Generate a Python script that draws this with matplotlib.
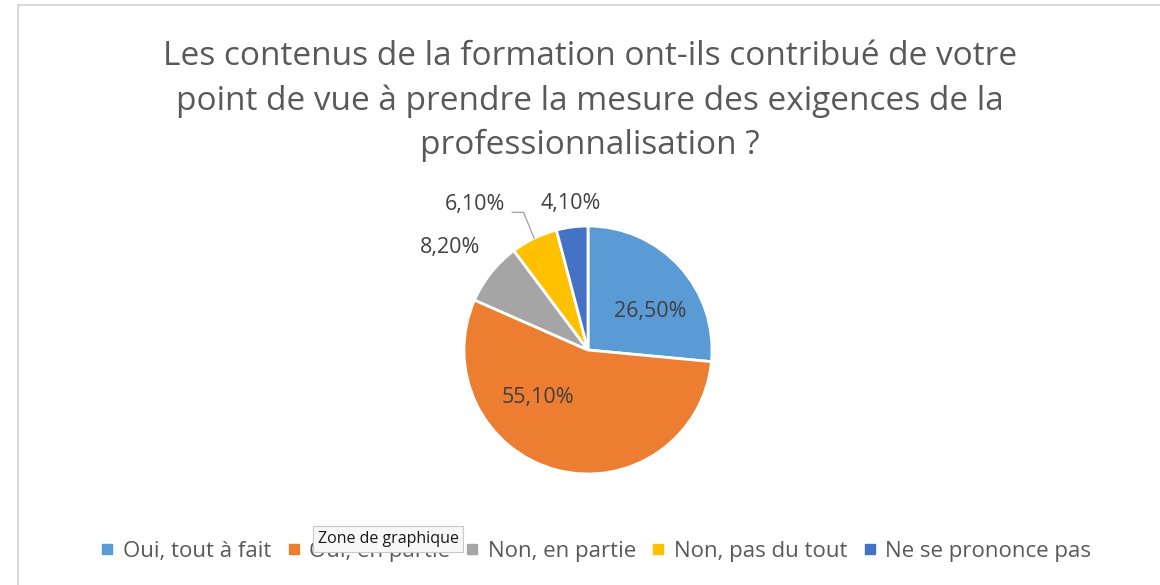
import matplotlib.pyplot as plt
import numpy as np
from matplotlib.lines import Line2D

############# DATA #############

categories = ['Oui, tout à fait', 'Oui, en partie', 'Non, en partie',
              'Non, pas du tout', 'Ne se prononce pas']
values = [26.5, 55.1, 8.2, 6.1, 4.1]
pct_labels = ['26,50%', '55,10%', '8,20%', '6,10%', '4,10%']
colors = ['#5B9BD5', '#ED7D31', '#A5A5A5', '#FFC000', '#4472C4']

title = ("Les contenus de la formation ont-ils contribué de votre\n"
         "point de vue à prendre la mesure des exigences de la\n"
         "professionnalisation ?")

plt.rcParams['font.family'] = ['Open Sans', 'DejaVu Sans']

W, H = 1160, 585
fig = plt.figure(figsize=(W / 100, H / 100), dpi=100)
fig.patch.set_facecolor('white')

# chart area border (left and top only visible in screenshot)
fig.add_artist(Line2D([18 / W, 18 / W], [0, 1 - 5 / H], color='#d9d9d9', lw=1.5))
fig.add_artist(Line2D([18 / W, 1], [1 - 5 / H, 1 - 5 / H], color='#d9d9d9', lw=1.5))

# title
fig.text(590 / W, 1 - 101 / H, title, ha='center', va='center',
         fontsize=24, color='#595959', linespacing=1.45)

# pie axes: center (588, 350) px, radius 124 px
cx, cy, R = 588, 350, 124
ax = fig.add_axes([(cx - R) / W, (H - cy - R) / H, 2 * R / W, 2 * R / H])
wedges, _ = ax.pie(values, colors=colors, startangle=90, counterclock=False,
                   wedgeprops=dict(edgecolor='white', linewidth=2))
ax.set_xlim(-1, 1)
ax.set_ylim(-1, 1)
ax.set_aspect('auto')
ax.axis('off')

# label positions (offsets from pie centre, in radius units)
label_pos = [(0.50, 0.31), (-0.40, -0.38), (-1.11, 0.83), (-0.91, 1.17), (-0.14, 1.18)]
for lab, (lx, ly) in zip(pct_labels, label_pos):
    ax.text(lx, ly, lab, ha='center', va='center', fontsize=15.5,
            color='#404040', clip_on=False)

# leader line for the 6,10% slice
w = wedges[3]
mid = np.deg2rad((w.theta1 + w.theta2) / 2)
ex, ey = np.cos(mid), np.sin(mid)
ax.add_line(Line2D([-0.61, -0.52, ex], [1.11, 1.11, ey], color='#a6a6a6',
                   lw=1, clip_on=False))

# legend
handles = [Line2D([], [], marker='s', linestyle='none', markersize=7,
                  markerfacecolor=c, markeredgecolor=c) for c in colors]
fig.legend(handles, categories, loc='center', bbox_to_anchor=(596 / W, 1 - 551 / H),
           ncol=5, frameon=False, fontsize=16, labelcolor='#595959',
           handlelength=0.6, handletextpad=0.4, columnspacing=0.7)

# tooltip overlay from the screenshot
fig.text(388 / W, 1 - 539 / H, 'Zone de graphique', ha='center', va='center',
         fontsize=11.5, color='#1a1a1a', zorder=10,
         bbox=dict(boxstyle='square,pad=0.3', facecolor='#f7f7f7',
                   edgecolor='#c8c8c8', linewidth=0.8))

fig.savefig('out.png', dpi=100, facecolor='white')
